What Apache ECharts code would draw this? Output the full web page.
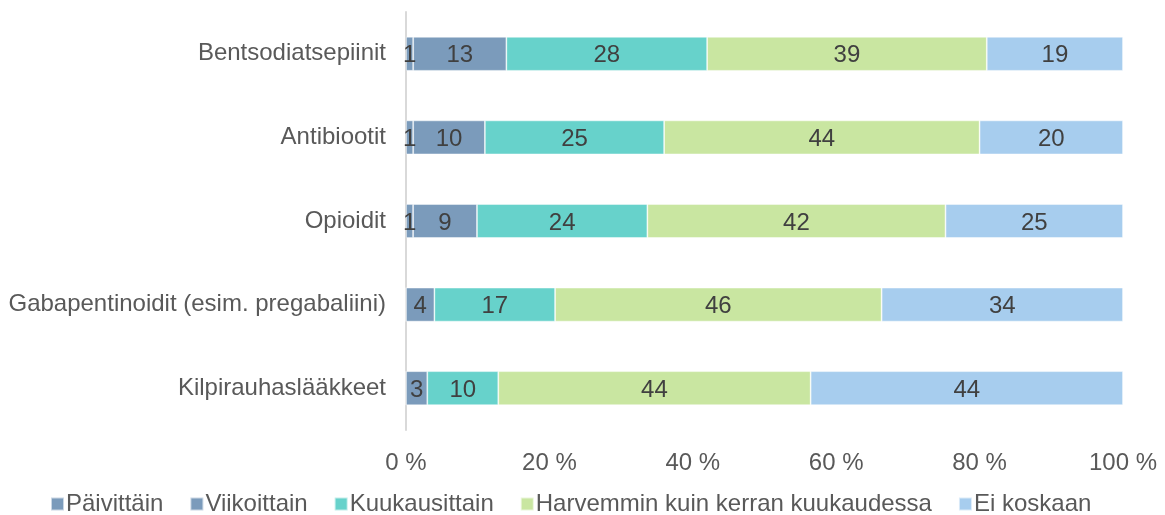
<!DOCTYPE html>
<html><head><meta charset="utf-8">
<script src="https://cdn.jsdelivr.net/npm/echarts@6/dist/echarts.min.js"></script>
<style>html,body{margin:0;padding:0;background:#fff}#c{width:1165px;height:515px}</style>
</head><body><div id="c"></div>
<script>
const categories = ['Bentsodiatsepiinit','Antibiootit','Opioidit','Gabapentinoidit (esim. pregabaliini)','Kilpirauhaslääkkeet'];
const seriesNames = ['Päivittäin','Viikoittain','Kuukausittain','Harvemmin kuin kerran kuukaudessa','Ei koskaan'];
const paivittain = [1,1,1,0,0];
const viikoittain = [13,10,9,4,3];
const kuukausittain = [28,25,24,17,10];
const harvemmin = [39,44,42,46,44];
const eiKoskaan = [19,20,25,34,44];
const xTicks = ['0 %','20 %','40 %','60 %','80 %','100 %'];
const colors = ['#7b9bbb','#7b9bbb','#67d2cb','#c9e6a1','#a7cdee'];

const raw = [paivittain, viikoittain, kuukausittain, harvemmin, eiKoskaan];
const totals = categories.map((_, i) => raw.reduce((s, a) => s + a[i], 0));
const FONT = 'Liberation Sans, Arial, sans-serif';

const series = raw.map((arr, k) => ({
  name: seriesNames[k],
  type: 'bar',
  stack: 'all',
  barWidth: 34,
  itemStyle: {color: colors[k], borderColor: 'rgba(255,255,255,0.6)', borderWidth: 0.8},
  label: {
    show: true,
    position: 'inside',
    color: '#404040',
    fontSize: 24,
    fontFamily: FONT,
    offset: [0, 2],
    formatter: p => p.data.raw === 0 ? '' : String(p.data.raw)
  },
  data: arr.map((v, i) => ({value: v / totals[i] * 100, raw: v}))
}));

const chart = echarts.init(document.getElementById('c'), null, {renderer: 'canvas'});
chart.setOption({
  animation: false,
  color: colors,
  grid: {left: 406, right: 42, top: 12, height: 418, containLabel: false},
  legend: {
    bottom: -1, left: 50, padding: 0,
    itemWidth: 13, itemHeight: 13, itemGap: 26,
    icon: 'rect',
    textStyle: {color: '#595959', fontSize: 24, fontFamily: FONT, padding: [0,0,0,-3]},
    data: seriesNames
  },
  xAxis: {
    type: 'value', min: 0, max: 100, interval: 20,
    axisLine: {show: false}, axisTick: {show: false}, splitLine: {show: false},
    axisLabel: {color: '#595959', fontSize: 24, fontFamily: FONT, margin: 21,
      formatter: v => xTicks[Math.round(v / 20)]}
  },
  yAxis: {
    type: 'category', inverse: true, data: categories,
    axisLine: {show: true, lineStyle: {color: '#d9d9d9', width: 2}},
    axisTick: {show: false},
    axisLabel: {color: '#595959', fontSize: 24, fontFamily: FONT, margin: 20}
  },
  series: series
});
</script></body></html>
